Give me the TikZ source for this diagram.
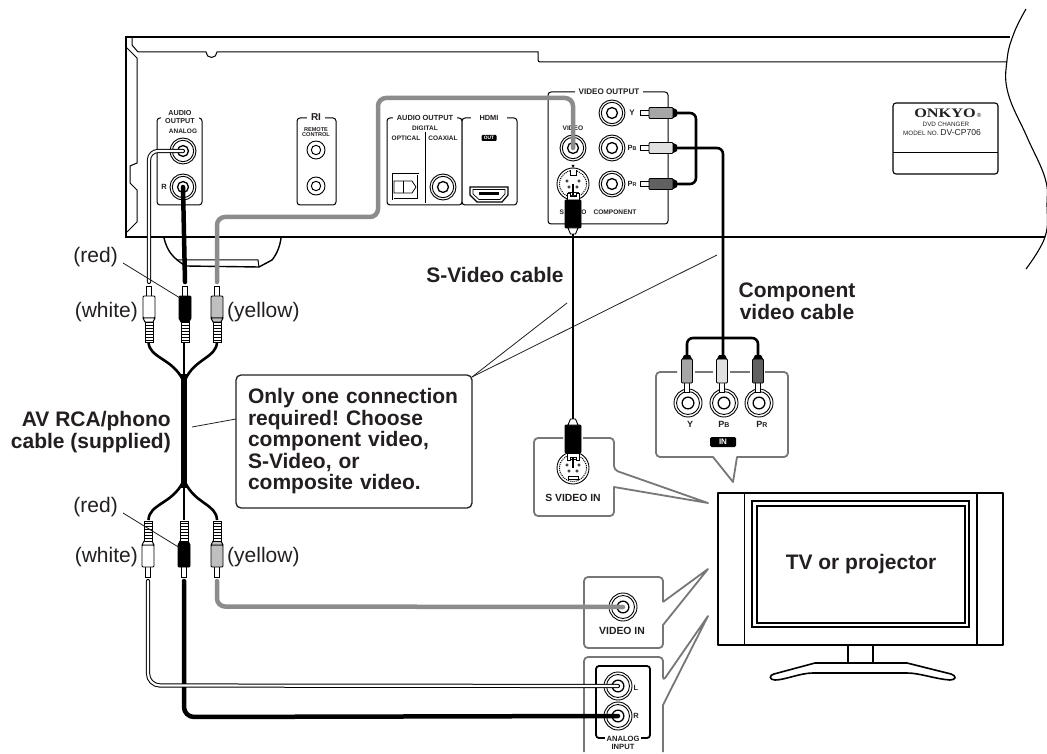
\documentclass[tikz,border=0pt]{standalone}
\usepackage{fontspec}
\setmainfont{Liberation Sans}
\newfontfamily\onkyofont{Liberation Serif}
\definecolor{ink}{HTML}{231F20}
\definecolor{callgray}{HTML}{777777}
\definecolor{cablegray}{HTML}{8C8C8C}
\newcommand\fz[1]{\fontsize{#1}{#1}\selectfont}
\frenchspacing
\tikzset{
  x=1pt,y=-1pt,
  every node/.style={text=ink,inner sep=0pt},
  biglabel/.style={font=\fontsize{21}{21.5}\selectfont\bfseries,align=center},
  colorlabel/.style={font=\fontsize{21}{21.5}\selectfont},
  tiny/.style={font=\fz{#1}\bfseries,align=center,fill=white,inner xsep=4pt,inner ysep=0pt},
  tiny/.default=7,
  notext/.style={font=\fz{#1}\bfseries,align=center},
  notext/.default=7,
  panel/.style={draw=black,line width=1pt,rounded corners=3pt,fill=white},
  chassis/.style={draw=black,line width=2pt},
  thinline/.style={draw=black,line width=1pt},
  leaderline/.style={draw=ink,line width=0.8pt},
  callout/.style={draw=callgray,line width=1.8pt,rounded corners=4pt,line join=round},
  jackring/.style={circle,draw=black,line width=.9pt,fill=white,inner sep=0pt},
  blackcable/.style={draw=black,line width=4.5pt,line cap=round,rounded corners=9pt},
  graycable/.style={draw=cablegray,line width=4.5pt,line cap=round,rounded corners=8pt},
  whitecable/.style={draw=black,line width=1pt,double=white,double distance=2.2pt,line cap=round,rounded corners=9pt},
  thincable/.style={draw=black,line width=2.6pt,rounded corners=6pt},
  plugline/.style={draw=black,line width=0.9pt},
  tvline/.style={draw=black,line width=1.6pt},
}
% jack with three rings
\newcommand\jack[3]{%
  \node[jackring,minimum size=#3*2pt] (#1) at (#2) {};
  \draw[line width=.9pt] (#1.center) circle[radius=#3*0.82pt];
  \draw[line width=1.3pt] (#1.center) circle[radius=#3*0.42pt];
}
% jack with two rings
\newcommand\smalljack[3]{%
  \node[jackring,minimum size=#3*2pt] (#1) at (#2) {};
  \draw[line width=1pt] (#1.center) circle[radius=#3*0.52pt];
}
% S-video socket
\newcommand\svjack[2]{%
  \node[jackring,minimum size=32pt] (#1) at (#2) {};
  \draw[line width=1pt,densely dotted] (#1.center) circle[radius=13.5pt];
  \begin{scope}[shift={(#2)}]
    \foreach \a/\b in {-6/-3,6/-3,-4/3,4/3} \draw[line width=.6pt] (\a,\b) circle[radius=1.2pt];
    \draw[line width=.8pt] (-5,8) rectangle (5,11);
    \draw[line width=.8pt,fill=white] (-3,-14) -- (-3,-9) -- (3,-9) -- (3,-14);
  \end{scope}
}
% RCA plug: tip at #1, extends in direction #2, body colour #3
\newcommand\rcaplug[3]{%
  \begin{scope}[shift={(#1)},rotate=#2]
    \draw[plugline,fill=white] (0,-2.5) rectangle (11,2.5);
    \draw[plugline,fill=#3,rounded corners=1pt] (10,-6) rectangle (32,6);
    \draw[plugline,fill=#3] (32,-6) -- (36,-4) -- (36,4) -- (32,6) -- cycle;
    \draw[plugline,fill=white] (36,-4) rectangle (56,4);
    \foreach \t in {39,42,45,48,51,54} \draw[line width=.9pt] (\t,-4) -- (\t,4);
  \end{scope}
}
% Component plug
\newcommand\compplug[3]{%
  \begin{scope}[shift={(#1)},rotate=#2]
    \draw[plugline,fill=white] (0,-2.5) rectangle (10,2.5);
    \draw[plugline,fill=#3,rounded corners=1pt] (9,-5.5) rectangle (33,5.5);
    \fill[black] (33,-5) -- (37,-3) -- (37,3) -- (33,5) -- cycle;
  \end{scope}
}
% S-video plug
\newcommand\svplug[2]{%
  \begin{scope}[shift={(#1)},rotate=#2]
    \draw[plugline,fill=white] (0,-6) -- (7,-6) -- (7,6) -- (0,6) -- (0,3) -- (3,3) -- (3,-3) -- (0,-3) -- cycle;
    \draw[plugline,fill=black,rounded corners=1pt] (7,-8) rectangle (35,8);
    \draw[plugline,fill=white] (35,-5) -- (41,-2.5) -- (41,2.5) -- (35,5) -- cycle;
  \end{scope}
}
\begin{document}
\begin{tikzpicture}
\useasboundingbox (0,0) rectangle (1047,754);
\fill[white] (0,0) rectangle (1047,754);

% ---------- foot behind the chassis
\draw[thinline,line width=1.4pt] (164,238) .. controls (167,250) and (172,258) .. (186,266) -- (259,267) -- (272,260) .. controls (277,254) and (280,246) .. (281,238);
\draw[thinline] (177,260) -- (258,260) -- (259,267);

% ---------- chassis
\draw[chassis] (1010,37) -- (126,37) -- (126,237) -- (1045,237);
\draw[thinline] (132,38) -- (132,45) -- (138,52) -- (206,52) arc[start angle=180,end angle=0,radius=5.5] -- (538,52) -- (538,58) [rounded corners=2pt] -- (538,62) -- (1007,62);
\draw[thinline] (126,47) -- (137,58) -- (137,163) -- (130,166) -- (130,183) -- (137,190) -- (137,222) -- (127,232);
\draw[thinline,line width=1.1pt] plot[smooth,tension=.7] coordinates {(1026,9) (1014,33) (1007,60) (1008,93) (1027,137) (1045,178) (1047,205) (1045,237) (1026,269)};

% ---------- rear panel: audio output
\draw[panel] (157,118) rectangle (202,205);
\node[tiny=7.2] (lAudio) at (180,117) {\fontsize{7.2}{7}\selectfont AUDIO\\OUTPUT};
\node[notext=6.5] (lAnalog) at (183,131) {ANALOG};
\node[notext=7.5] (lR) at (164,187) {R};
\jack{aoL}{183,151}{13}
\jack{aoR}{183,187}{13}

% ---------- RI
\draw[panel] (297,118) rectangle (336,205);
\node[tiny=10] (lRI) at (316,117) {RI};
\node[notext=5.6] (lRemote) at (316,132) {\fontsize{5.6}{5.6}\selectfont REMOTE\\CONTROL};
\smalljack{ri1}{316,150}{9}
\smalljack{ri2}{316,186}{9}

% ---------- digital audio / HDMI
\draw[panel] (387,118) rectangle (462,205);
\draw[panel] (462,118) rectangle (517,205);
\node[tiny=7.4] (lAudDig) at (425,118) {AUDIO OUTPUT};
\node[tiny=7.4,inner xsep=9pt] (lHdmi) at (489,118) {HDMI};
\node[notext=6.5] (lDigital) at (425,128) {DIGITAL};
\node[notext=6.5] (lOptical) at (406,138) {OPTICAL};
\node[notext=6.5] (lCoaxial) at (443,138) {COAXIAL};
\draw[thinline] (425,132) -- (425,203);
\draw[thinline,double,double distance=.7pt,line width=.6pt] (393,174) rectangle (418,199);
\draw[thinline,line width=.8pt] (394,181) -- (412,181) -- (416,187) -- (412,193) -- (394,193) -- cycle;
\draw[thinline,line width=.8pt] (403,181) -- (403,193);
\jack{coax}{443,187}{13}
\node[fill=black,rounded corners=1pt,minimum width=15pt,minimum height=6pt,font=\fz{4.8}\bfseries,text=white] (lOut) at (489,138) {OUT};
\draw[thinline,line width=1.2pt] (470,187) -- (508,187) -- (508,195) -- (502,202) -- (477,202) -- (470,195) -- cycle;
\draw[thinline,line width=.7pt] (473,189.5) -- (505,189.5) -- (505,194) -- (500,199.5) -- (479,199.5) -- (473,194) -- cycle;
\fill[black] (479,192.5) rectangle (499,195.5);

% ---------- video output
\draw[panel] (548,92) rectangle (668,224);
\node[tiny=8.1] (lVidOut) at (609,92) {VIDEO OUTPUT};
\node[notext=6.6] (lVideo) at (573,128) {VIDEO};
\jack{vOut}{573,148}{13}
\jack{cY}{612,113}{13}
\jack{cB}{612,148}{13}
\jack{cR}{612,184}{13}
\node[notext=8] (lY) at (632,113) {Y};
\node[notext=7.5] (lPb) at (632,148) {P\fontsize{5.5}{5.5}\selectfont B};
\node[notext=7.5] (lPr) at (632,184) {P\fontsize{5.5}{5.5}\selectfont R};
\fill[black] (571.5,165) -- (574.5,165) -- (573,168) -- cycle;
\svjack{svOut}{573,184}
\node[notext=6.6] (lSvid) at (573,212) {S VIDEO};
\node[notext=6.6] (lComp) at (615,212) {COMPONENT};

% ---------- label plate
\draw[panel,line width=1.1pt] (893,103) rectangle (998,174);
\draw[thinline,line width=.9pt] (893,152) -- (998,152);
\node[font=\onkyofont\bfseries\fontsize{13}{13}\selectfont] (lOnkyo) at (945,113) {\scalebox{1.25}[1]{ONKYO}};
\node[font=\fz{6}] (lReg) at (979,115) {®};
\node[font=\fz{6.3}] (lDvd) at (946,124) {DVD CHANGER};
\node[anchor=west,font=\fz{6.3}] (lModel) at (903,133) {MODEL NO. \fontsize{8.6}{8.6}\selectfont DV-CP706};

% ---------- leader lines
\coordinate (svTip) at (567,303);
\coordinate (compTip) at (717,255);
\coordinate (avTip) at (192,427);
\coordinate (redTopA) at (123,263);
\coordinate (redTopB) at (180,298);
\coordinate (redBotA) at (123,513);
\coordinate (redBotB) at (180,548);

% ---------- callout boxes
\coordinate (tvTipS) at (708,503);
\coordinate (tvTipC) at (733,482);
\coordinate (tvTipV) at (708,569);
\coordinate (tvTipA) at (708,616);
\draw[callout] (583,438) -- (614,438) -- (614,470) [sharp corners] -- (tvTipS) -- (614,487) [rounded corners=4pt] -- (614,516) -- (534,516) -- (534,438) -- (563,438);
\draw[callout] (765,372) -- (788,372) -- (788,457) [sharp corners] -- (737,457) -- (tvTipC) -- (713,457) [rounded corners=4pt] -- (656,457) -- (656,372) -- (677,372);
\draw[callout,line cap=butt] (695,372) -- (713,372);
\draw[callout,line cap=butt] (730,372) -- (750,372);
\draw[callout] (663,602) [sharp corners] -- (tvTipV) -- (663,625) [rounded corners=4pt] -- (663,648) -- (584,648) -- (584,577) -- (663,577) -- (663,602);
\draw[callout] (584,752) -- (584,657) -- (663,657) -- (663,681) [sharp corners] -- (tvTipA) -- (663,705) -- (663,752);

% ---------- component inputs
\jack{inY}{688,403}{14}
\jack{inB}{724,403}{14}
\jack{inR}{759,403}{14}
\node[notext=9] (lInY) at (690,424) {Y};
\node[notext=9] (lInB) at (724,424) {P\fontsize{7}{7}\selectfont B};
\node[notext=9] (lInR) at (762,424) {P\fontsize{7}{7}\selectfont R};
\node[fill=black,rounded corners=1.5pt,minimum width=26pt,minimum height=10pt,font=\fz{8}\bfseries,text=white] (lIn) at (723,442) {IN};

% ---------- S-video input
\svjack{svIn}{573,468}
\node[notext=10.4] (lSvidIn) at (573,498) {S VIDEO IN};

% ---------- composite / analog inputs
\jack{vIn}{623,607}{14}
\node[notext=10.4] (lVidIn) at (622,631) {VIDEO IN};
\draw[panel,draw=black,line width=1.8pt,fill=none] (596,666) rectangle (650,738);
\jack{anL}{618,686}{14}
\jack{anR}{618,716}{14}
\node[notext=7.5] (lAnL) at (636,688) {L};
\node[notext=7.5] (lAnR) at (636,716) {R};
\node[tiny=7.6,inner xsep=2pt] (lAnalogIn) at (623,743) {\fontsize{7.6}{8.4}\selectfont ANALOG\\INPUT};

% ---------- plug anchors
\coordinate (tpW) at (149,286);
\coordinate (tpR) at (185,286);
\coordinate (tpY) at (217,286);
\coordinate (bpW) at (148,577);
\coordinate (bpR) at (184,577);
\coordinate (bpY) at (217,577);
\coordinate (topW) at (149,282);
\coordinate (topR) at (185,282);
\coordinate (topY) at (217,282);
\coordinate (botW) at (148,581);
\coordinate (botR) at (184,581);
\coordinate (botY) at (217,581);
\coordinate (trunkTop) at (184,374);
\coordinate (trunkBot) at (184,488);

% ---------- leaders under the cables
\draw[leaderline] (avTip) -- (236,419);
\draw[leaderline] (472,377) -- (svTip);
\draw[leaderline] (472,377) -- (compTip);

% ---------- cables from the player
\draw[graycable] (vOut.center) -- (573,98) -- (378,98) -- (378,217) -- (217,217) -- (topY);
\draw[blackcable] (aoR.center) -- (topR);
\draw[whitecable] (aoL.center) -- (149,151) -- (topW);
\draw[draw=black,line width=2.6pt] (svOut.center) -- (svIn.center);
\draw[thincable] (677,113) -- (696,113) -- (696,184) -- (677,184);
\draw[thincable] (677,148) -- (723,148) -- (723,358);
\draw[thincable] (687,358) -- (687,338) -- (758,338) -- (758,358);

% ---------- cables to the TV
\draw[blackcable,rounded corners=10pt] (botR) -- (184,717) -- (anR.center);
\draw[whitecable,rounded corners=12pt] (botW) -- (148,685.5) -- (anL.center);
\draw[graycable] (botY) -- (217,606.5) -- (vIn.center);

% ---------- supplied cable trunk
\draw[draw=black,line width=6.5pt] (trunkTop) -- (trunkBot);
\draw[draw=black,line width=2.6pt] (184,342) -- (184,520);
\draw[draw=black,line width=2.6pt] (148.5,342) .. controls (149,358) and (172,358) .. (183,380);
\draw[draw=black,line width=2.6pt] (217,342) .. controls (216.5,358) and (195,358) .. (185,380);
\draw[draw=black,line width=2.6pt] (148.5,520) .. controls (149,504) and (172,504) .. (183,482);
\draw[draw=black,line width=2.6pt] (217,520) .. controls (216.5,504) and (195,504) .. (185,482);

% ---------- plugs
\rcaplug{tpW}{-90}{white}
\rcaplug{tpR}{-90}{black}
\rcaplug{tpY}{-90}{black!25}
\rcaplug{bpW}{90}{white}
\rcaplug{bpR}{90}{black}
\rcaplug{bpY}{90}{black!25}
\compplug{640,113}{0}{black!35}
\compplug{640,148}{0}{black!12}
\compplug{640,184}{0}{black!62}
\compplug{687,392}{90}{black!35}
\compplug{722,392}{90}{black!12}
\compplug{758,392}{90}{black!62}
\svplug{573,193}{-90}
\svplug{573,460}{90}

% ---------- red leaders go over the plugs
\draw[leaderline] (redTopA) -- (redTopB);
\draw[leaderline] (redBotA) -- (redBotB);

% ---------- note
\node[draw=ink,line width=1.3pt,rounded corners=5pt,fill=white,minimum width=236pt,minimum height=133pt,inner xsep=12pt,text width=212pt,align=left,font=\fontsize{21}{21.5}\selectfont\bfseries] (note) at (354,441.5) {Only one connection\\required! Choose\\component video,\\S-Video, or\\composite video.};

% ---------- labels
\node[biglabel] (lSvCable) at (495,275) {S-Video cable};
\node[biglabel] (lCompCable) at (797,301.5) {Component\\video cable};
\node[biglabel,align=right,anchor=east] (lAv) at (171,432) {AV RCA/phono\\cable (supplied)};
\node[colorlabel,anchor=east] (lRed1) at (118,257) {(red)};
\node[colorlabel,anchor=east] (lWhite1) at (138,312) {(white)};
\node[colorlabel,anchor=west] (lYellow1) at (227,312) {(yellow)};
\node[colorlabel,anchor=east] (lRed2) at (118,507) {(red)};
\node[colorlabel,anchor=east] (lWhite2) at (138,557) {(white)};
\node[colorlabel,anchor=west] (lYellow2) at (227,557) {(yellow)};

% ---------- TV
\draw[tvline,line join=round] (848,645) -- (848,663) (873,645) -- (873,663);
\draw[tvline] (815,663) -- (907,663) -- (951,674) .. controls (957,676) and (956,680) .. (950,680) .. controls (935,679) and (920,673) .. (907,673) -- (813,673) .. controls (800,673) and (785,680) .. (775,680) .. controls (769,680) and (769,675) .. (774,674) -- cycle;
\draw[tvline,line width=1.8pt,line join=round] (718,493) rectangle (1003,645);
\draw[tvline,line width=1.2pt] (744.5,493) -- (744.5,645) (977,493) -- (977,645);
\draw[tvline,line width=1.2pt] (752,501) rectangle (969,627);
\node[draw=black,line width=2.2pt,minimum width=208pt,minimum height=117pt,font=\fontsize{21}{21}\selectfont\bfseries] (screen) at (861,564.5) {TV or projector};
\end{tikzpicture}
\end{document}
